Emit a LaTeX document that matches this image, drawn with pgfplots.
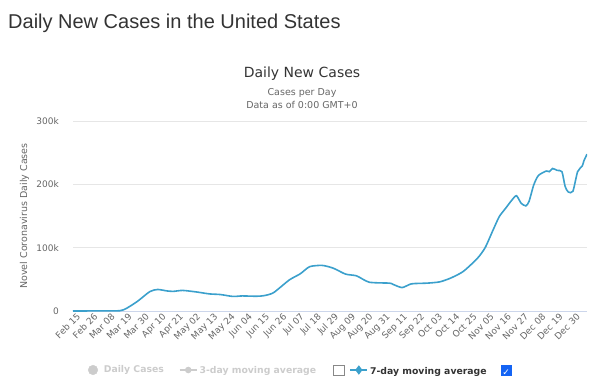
\documentclass[border=0pt]{standalone}
\usepackage{pgfplots}
\pgfplotsset{compat=1.18}
\usepackage{fontspec}
\setmainfont{DejaVu Sans}
\newfontfamily\titlefont{Liberation Sans}
\definecolor{linec}{HTML}{3BA0CC}
\definecolor{cthree}{HTML}{333333}
\definecolor{csix}{HTML}{666666}
\definecolor{gridc}{HTML}{E6E6E6}
\definecolor{axc}{HTML}{CCD6EB}
\definecolor{lgray}{HTML}{CCCCCC}
\definecolor{boxc}{HTML}{888888}
\definecolor{chkc}{HTML}{1464F4}
\newcommand{\emptybox}{\raisebox{-1.5pt}{\setlength{\fboxsep}{0pt}\setlength{\fboxrule}{0.7pt}\fcolorbox{boxc}{white}{\rule{0pt}{10pt}\hspace{10pt}}}}
\newcommand{\checkedbox}{\raisebox{-1.5pt}{\setlength{\fboxsep}{0pt}\colorbox{chkc}{\makebox[11pt][c]{\rule{0pt}{11pt}\textcolor{white}{\fontsize{9}{9}\selectfont ✓}}}}}
\begin{document}
\begin{tikzpicture}
\useasboundingbox (-73pt,-73pt) rectangle (526pt,311pt);
\begin{axis}[
  at={(0pt,0pt)}, anchor=south west,
  scale only axis, width=514pt, height=190pt,
  xmin=0, xmax=328, ymin=0, ymax=300,
  axis x line*=bottom, axis y line*=left,
  x axis line style={draw=axc, line width=1pt, -},
  y axis line style={draw=none},
  major tick length=0pt,
  ymajorgrids, grid style={draw=gridc, line width=0.8pt},
  ytick={0,100,200,300}, yticklabels={0,100k,200k,300k},
  yticklabel style={text=csix, font=\fontsize{9}{11}\selectfont, inner sep=0pt, xshift=-14pt},
  xtick={0,11,...,319},
  xticklabels={Feb 15,Feb 26,Mar 08,Mar 19,Mar 30,Apr 10,Apr 21,May 02,May 13,May 24,Jun 04,Jun 15,Jun 26,Jul 07,Jul 18,Jul 29,Aug 09,Aug 20,Aug 31,Sep 11,Sep 22,Oct 03,Oct 14,Oct 25,Nov 05,Nov 16,Nov 27,Dec 08,Dec 19,Dec 30},
  xticklabel style={rotate=45, anchor=east, text=csix, font=\fontsize{9}{11}\selectfont, inner sep=0pt, xshift=1pt, yshift=-7pt},
  ylabel={Novel Coronavirus Daily Cases},
  ylabel style={at={(axis description cs:-0.0944,0.5)}, anchor=center, rotate=0, text=csix, font=\fontsize{9.5}{11}\selectfont},
  legend columns=3,
  legend style={at={(axis description cs:0.0292,-0.3105)}, anchor=west, draw=none, fill=none, inner sep=0pt,
    font=\bfseries\fontsize{9.3}{11}\selectfont,
    /tikz/every even column/.append style={column sep=1pt}},
]
\addlegendimage{only marks, mark=*, mark size=4.8pt, color=lgray}
\addlegendentry{\hspace{4pt}\textcolor{lgray}{Daily Cases}\rule{12pt}{0pt}}
\addlegendimage{color=lgray, line width=1.5pt, mark=*, mark size=2.5pt}
\addlegendentry{\textcolor{lgray}{3-day moving average}\hspace{17pt}\emptybox\rule{2pt}{0pt}}
\addlegendimage{color=linec, line width=1.5pt, mark=diamond*, mark size=3.5pt}
\addlegendentry{\textcolor{cthree}{7-day moving average}\hspace{14pt}\checkedbox}
\addplot[color=linec, line width=1.6pt, smooth, tension=0.4, forget plot] table {
x y
0 0
10 0.1
20 0.2
30 0.5
34 4
41 15
49 30.6
54 34
60 31.7
64 31
70 32.5
79 30
87 27
94 26
102 23
108 23.8
117 23.3
122 24.3
128 29
138 49
145 58.7
151 70
159 72
166 67.7
174 58.2
181 55.5
189 45.5
202 44
204 42.3
210 37
216 42.9
226 44
234 46
241 52
249 62.4
258 83
263 100
268 127.6
272 149
276 162
280 175
283 182
286 170
289 166
291 173
294 199
297 214
302 221
304 220
306 225
309 222
312 220
314 197
316 188
319 189
322 220
325 229
326 237
328 247.6
};
\end{axis}
\node[anchor=base west, inner sep=0pt, text=cthree, font=\titlefont\fontsize{20}{24}\selectfont] at (-65pt,283pt) {Daily New Cases in the United States};
\node[anchor=base, inner sep=0pt, text=cthree, font=\fontsize{14}{16}\selectfont] at (229pt,233.3pt) {Daily New Cases};
\node[anchor=base, inner sep=0pt, text=csix, font=\fontsize{9.5}{11}\selectfont] at (229pt,215.3pt) {Cases per Day};
\node[anchor=base, inner sep=0pt, text=csix, font=\fontsize{9.5}{11}\selectfont] at (229pt,202.7pt) {Data as of 0:00 GMT+0};
\end{tikzpicture}
\end{document}
